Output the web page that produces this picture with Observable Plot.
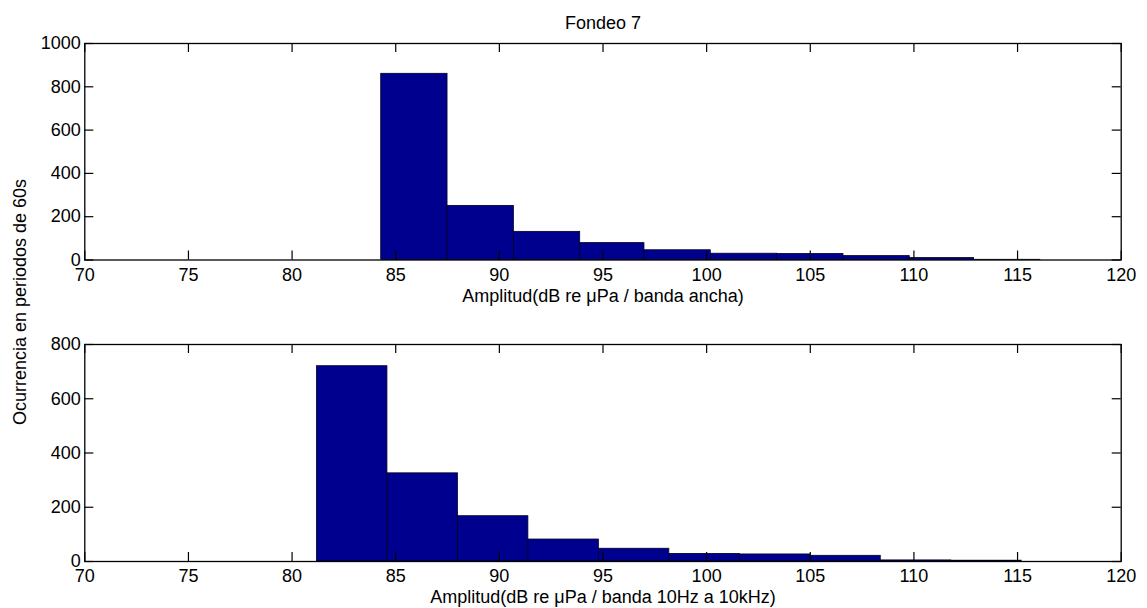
<!DOCTYPE html>
<html>
<head>
<meta charset="utf-8">
<script src="https://cdn.jsdelivr.net/npm/d3@7"></script>
<script src="https://cdn.jsdelivr.net/npm/@observablehq/plot@0.6"></script>
<style>
  html, body { margin: 0; padding: 0; background: #fff; }
  #wrap { position: relative; width: 1147px; height: 608px; overflow: hidden; font-family: "Liberation Sans", Arial, sans-serif; }
  #top, #bottom { position: absolute; left: 0; }
  #top { top: 0; }
  #bottom { top: 304px; }
  #ylabel { position: absolute; left: 20px; top: 302px; transform: translate(-50%, -50%) rotate(-90deg); white-space: nowrap; font-size: 18px; color: #000; }
</style>
</head>
<body>
<div id="wrap">
  <div id="top"></div>
  <div id="bottom"></div>
  <div id="ylabel">Ocurrencia en periodos de 60s</div>
</div>
<script>
const title = "Fondeo 7";
const xTicks = [70, 75, 80, 85, 90, 95, 100, 105, 110, 115, 120];
const topYTicks = [0, 200, 400, 600, 800, 1000];
const bottomYTicks = [0, 200, 400, 600, 800];
const topXLabel = "Amplitud(dB re μPa / banda ancha)";
const bottomXLabel = "Amplitud(dB re μPa / banda 10Hz a 10kHz)";

// Histogram bin edges (dB) and counts
const topEdges = [84.3, 87.5, 90.7, 93.9, 97.0, 100.2, 103.4, 106.6, 109.8, 112.9, 116.1];
const topCounts = [860, 250, 130, 78, 45, 29, 28, 18, 9, 1];
const bottomEdges = [81.2, 84.6, 88.0, 91.4, 94.8, 98.2, 101.6, 105.0, 108.4, 111.8, 115.2];
const bottomCounts = [720, 325, 167, 81, 47, 28, 26, 21, 4, 3];

const W = 1147, ML = 84.3, MR = 26.3, TICK = 9;
const FILL = "#00008F";

function bins(edges, counts) {
  return counts.map((c, i) => ({x1: edges[i], x2: edges[i + 1], y: c}));
}

function makePlot({edges, counts, yMax, yTicks, xLabel, h, mt, mb, titleText}) {
  const frameH = h - mt - mb;
  const frameW = W - ML - MR;
  const marks = [
    Plot.rectY(bins(edges, counts), {x1: "x1", x2: "x2", y: "y", fill: FILL, stroke: "#000020", strokeWidth: 0.8}),
    Plot.frame({stroke: "#000", strokeWidth: 1.3}),
    // inward ticks on all four sides
    Plot.tickX(xTicks, {x: d => d, insetTop: frameH - TICK, stroke: "#000", strokeWidth: 1.2}),
    Plot.tickX(xTicks, {x: d => d, insetBottom: frameH - TICK, stroke: "#000", strokeWidth: 1.2}),
    Plot.tickY(yTicks, {y: d => d, insetRight: frameW - TICK, stroke: "#000", strokeWidth: 1.2}),
    Plot.tickY(yTicks, {y: d => d, insetLeft: frameW - TICK, stroke: "#000", strokeWidth: 1.2}),
    Plot.axisX({ticks: xTicks, tickSize: 0, tickPadding: 8, tickFormat: d => String(d), label: null, fill: "#000"}),
    Plot.axisY({ticks: yTicks, tickSize: 0, tickPadding: 4, tickFormat: d => String(d), label: null, fill: "#000"}),
    Plot.text([xLabel], {frameAnchor: "bottom", dy: 36, lineAnchor: "middle", text: d => d, fill: "#000"})
  ];
  if (titleText) {
    marks.push(Plot.text([titleText], {frameAnchor: "top", dy: -20, lineAnchor: "middle", text: d => d, fill: "#000"}));
  }
  return Plot.plot({
    width: W,
    height: h,
    marginLeft: ML,
    marginRight: MR,
    marginTop: mt,
    marginBottom: mb,
    style: {fontFamily: "'Liberation Sans', Arial, sans-serif", fontSize: "18px", color: "#000", background: "transparent", overflow: "visible"},
    x: {domain: [70, 120], label: null},
    y: {domain: [0, yMax], label: null},
    marks
  });
}

document.getElementById("top").appendChild(makePlot({
  edges: topEdges, counts: topCounts, yMax: 1000, yTicks: topYTicks,
  xLabel: topXLabel, h: 322, mt: 43, mb: 62.5, titleText: title
}));
document.getElementById("bottom").appendChild(makePlot({
  edges: bottomEdges, counts: bottomCounts, yMax: 800, yTicks: bottomYTicks,
  xLabel: bottomXLabel, h: 304, mt: 40, mb: 47
}));
</script>
</body>
</html>
